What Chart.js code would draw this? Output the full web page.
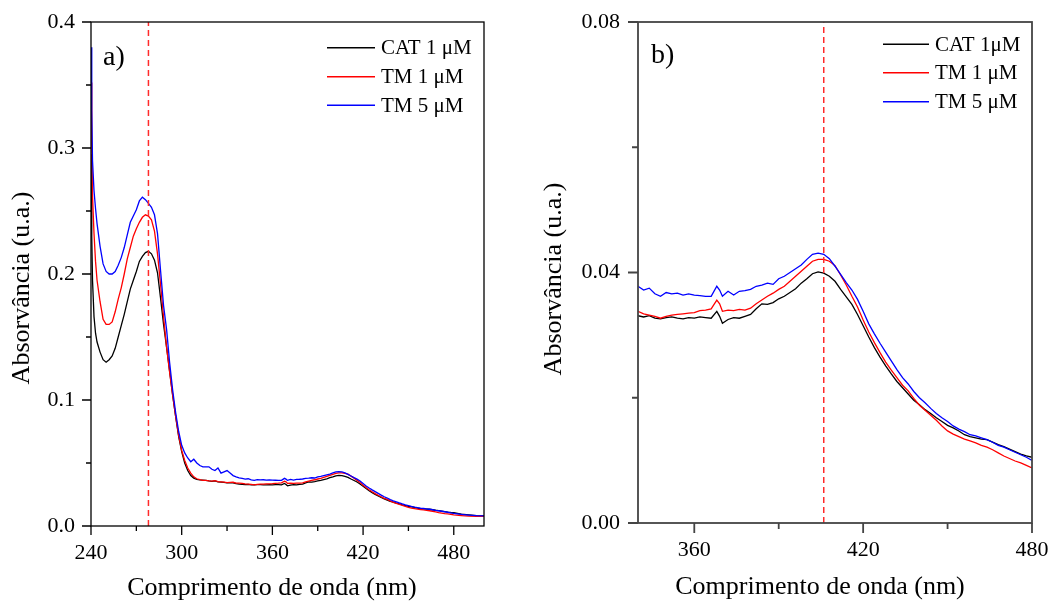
<!DOCTYPE html>
<html>
<head>
<meta charset="utf-8">
<script src="https://cdn.jsdelivr.net/npm/chart.js@4.4.1/dist/chart.umd.min.js"></script>
<style>
  body { margin: 0; background: #fff; }
  #wrap { position: relative; width: 1049px; height: 601px; }
  canvas { position: absolute; top: 0; }
  #chartA { left: 0; }
  #chartB { left: 520px; }
</style>
</head>
<body>
<div id="wrap">
  <canvas id="chartA" width="520" height="601"></canvas>
  <canvas id="chartB" width="529" height="601"></canvas>
</div>
<script>
// UV-vis spectra, wavelength in nm
var wavelength = [
  240, 240.5, 241, 242, 243, 244, 246, 248, 250, 252,
  254, 256, 258, 260, 262, 264, 266, 268, 270, 272,
  274, 276, 278, 280, 282, 284, 286, 288, 290, 292,
  294, 296, 298, 300, 302, 304, 306, 308, 310, 312,
  314, 316, 318, 320, 322, 324, 326, 328, 330, 332,
  334, 336, 338, 340, 342, 344, 346, 348, 350, 352,
  354, 356, 358, 360, 362, 364, 366, 368, 369, 370,
  372, 374, 376, 378, 380, 382, 384, 386, 388, 390,
  392, 394, 396, 398, 400, 402, 404, 406, 408, 410,
  412, 414, 416, 418, 420, 422, 424, 426, 428, 430,
  432, 434, 436, 438, 440, 442, 444, 446, 448, 450,
  452, 454, 456, 458, 460, 462, 464, 466, 468, 470,
  472, 474, 476, 478, 480, 485, 490, 495, 500
];

var cat1 = [
  0.295, 0.230, 0.195, 0.166, 0.153, 0.146, 0.138, 0.132, 0.130, 0.132,
  0.135, 0.141, 0.150, 0.159, 0.168, 0.178, 0.188, 0.195, 0.202, 0.210,
  0.214, 0.217, 0.218, 0.216, 0.211, 0.201, 0.181, 0.160, 0.142, 0.123,
  0.104, 0.087, 0.071, 0.059, 0.050, 0.044, 0.040, 0.038, 0.0370, 0.0366,
  0.0364, 0.0362, 0.0358, 0.0355, 0.0358, 0.0350, 0.0348, 0.0346, 0.0343, 0.0344,
  0.0342, 0.0336, 0.0333, 0.0331, 0.0329, 0.0331, 0.0327, 0.0326, 0.0328, 0.0329,
  0.0327, 0.0326, 0.0328, 0.0327, 0.0329, 0.0328, 0.0327, 0.0338, 0.0330, 0.0319,
  0.0325, 0.0328, 0.0327, 0.0330, 0.0333, 0.0342, 0.0350, 0.0349, 0.0352, 0.0358,
  0.0362, 0.0368, 0.0374, 0.0383, 0.0390, 0.0398, 0.0401, 0.0399, 0.0394, 0.0386,
  0.0373, 0.0361, 0.0349, 0.0333, 0.0315, 0.0297, 0.0280, 0.0265, 0.0251, 0.0238,
  0.0226, 0.0216, 0.0206, 0.0196, 0.0189, 0.0181, 0.0175, 0.0168, 0.0162, 0.0156,
  0.0152, 0.0147, 0.0141, 0.0138, 0.0136, 0.0134, 0.0133, 0.0129, 0.0125, 0.0122,
  0.0118, 0.0114, 0.0110, 0.0107, 0.0105, 0.0095, 0.0088, 0.0082, 0.0080
];

var tm1 = [
  0.352, 0.300, 0.262, 0.232, 0.210, 0.195, 0.178, 0.164, 0.160, 0.160,
  0.162, 0.170, 0.180, 0.189, 0.200, 0.212, 0.221, 0.230, 0.236, 0.241,
  0.245, 0.247, 0.246, 0.243, 0.234, 0.216, 0.192, 0.166, 0.142, 0.122,
  0.104, 0.087, 0.072, 0.060, 0.052, 0.046, 0.042, 0.039, 0.0375, 0.0368,
  0.0362, 0.0362, 0.0358, 0.0356, 0.0360, 0.0352, 0.0350, 0.0348, 0.0345, 0.0346,
  0.0347, 0.0340, 0.0340, 0.0338, 0.0334, 0.0332, 0.0330, 0.0327, 0.0330, 0.0332,
  0.0333, 0.0334, 0.0335, 0.0336, 0.0339, 0.0340, 0.0342, 0.0356, 0.0350, 0.0338,
  0.0340, 0.0339, 0.0341, 0.0340, 0.0343, 0.0350, 0.0356, 0.0362, 0.0367, 0.0373,
  0.0378, 0.0386, 0.0394, 0.0402, 0.0410, 0.0418, 0.0421, 0.0421, 0.0418, 0.0411,
  0.0396, 0.0380, 0.0362, 0.0345, 0.0324, 0.0305, 0.0288, 0.0272, 0.0257, 0.0244,
  0.0232, 0.0220, 0.0211, 0.0199, 0.0188, 0.0180, 0.0172, 0.0164, 0.0155, 0.0147,
  0.0142, 0.0138, 0.0134, 0.0131, 0.0128, 0.0124, 0.0121, 0.0117, 0.0112, 0.0107,
  0.0103, 0.0099, 0.0096, 0.0092, 0.0088, 0.0083, 0.0079, 0.0077, 0.0076
];

var tm5 = [
  0.380, 0.330, 0.290, 0.266, 0.252, 0.240, 0.222, 0.208, 0.202, 0.200,
  0.200, 0.202, 0.207, 0.213, 0.221, 0.231, 0.241, 0.246, 0.251, 0.258,
  0.261, 0.259, 0.256, 0.253, 0.247, 0.232, 0.203, 0.175, 0.156, 0.130,
  0.108, 0.090, 0.075, 0.064, 0.058, 0.054, 0.051, 0.053, 0.050, 0.048,
  0.047, 0.047, 0.047, 0.045, 0.044, 0.046, 0.042, 0.043, 0.044, 0.042,
  0.040, 0.039, 0.0382, 0.0378, 0.0372, 0.0375, 0.0366, 0.0362, 0.0368, 0.0366,
  0.0367, 0.0364, 0.0366, 0.0364, 0.0363, 0.0362, 0.0362, 0.0378, 0.0372, 0.0362,
  0.0370, 0.0364, 0.0370, 0.0371, 0.0373, 0.0378, 0.0380, 0.0383, 0.0381, 0.0390,
  0.0394, 0.0400, 0.0406, 0.0412, 0.0421, 0.0429, 0.0431, 0.0429, 0.0422, 0.0410,
  0.0397, 0.0384, 0.0372, 0.0357, 0.0338, 0.0318, 0.0302, 0.0287, 0.0273, 0.0259,
  0.0245, 0.0232, 0.0222, 0.0210, 0.0200, 0.0192, 0.0183, 0.0175, 0.0168, 0.0162,
  0.0155, 0.0150, 0.0146, 0.0141, 0.0139, 0.0136, 0.0133, 0.0129, 0.0124, 0.0121,
  0.0117, 0.0113, 0.0109, 0.0105, 0.0100, 0.0093, 0.0087, 0.0082, 0.0080
];

var labelsA = ['CAT 1 \u03bcM', 'TM 1 \u03bcM', 'TM 5 \u03bcM'];
var labelsB = ['CAT 1\u03bcM', 'TM 1 \u03bcM', 'TM 5 \u03bcM'];
var colors = ['#000000', '#ff0000', '#0000ff'];

// wavelength of the marked band in each panel
var peakA = 278;
var peakB = 406;

var xTitle = 'Comprimento de onda (nm)';
var yTitle = 'Absorv\u00e2ncia (u.a.)';
var serif = '"Liberation Serif", "Times New Roman", serif';

function series(values, label, color, order) {
  return {
    label: label,
    data: wavelength.map(function (w, i) { return { x: w, y: values[i] }; }),
    borderColor: color,
    borderWidth: 1.3,
    pointRadius: 0,
    order: order
  };
}

function marker(x, top) {
  return {
    label: 'marker',
    data: [{ x: x, y: 0 }, { x: x, y: top }],
    borderColor: '#ff2a2a',
    borderDash: [6, 4],
    borderWidth: 1.5,
    pointRadius: 0,
    order: 0
  };
}

// box, outward tick marks, axis titles, panel letter and legend
var decorations = {
  id: 'decorations',
  afterDraw: function (chart, args, o) {
    var ctx = chart.ctx, a = chart.chartArea;
    var xs = chart.scales.x, ys = chart.scales.y;
    ctx.save();
    ctx.strokeStyle = o.frameColor;
    ctx.lineWidth = o.frameWidth;
    ctx.strokeRect(a.left, a.top, a.right - a.left, a.bottom - a.top);
    ctx.beginPath();
    xs.ticks.forEach(function (t) {
      var px = xs.getPixelForValue(t.value);
      var len = t.label !== '' ? o.major : o.minor;
      ctx.moveTo(px, a.bottom);
      ctx.lineTo(px, a.bottom + len);
    });
    ys.ticks.forEach(function (t) {
      var py = ys.getPixelForValue(t.value);
      var len = t.label !== '' ? o.major : o.minor;
      ctx.moveTo(a.left, py);
      ctx.lineTo(a.left - len, py);
    });
    ctx.stroke();

    ctx.fillStyle = '#000';
    ctx.textAlign = 'center';
    ctx.textBaseline = 'middle';
    ctx.font = '26px ' + serif;
    ctx.fillText(xTitle, o.xTitleAt[0], o.xTitleAt[1]);
    ctx.save();
    ctx.translate(o.yTitleAt[0], o.yTitleAt[1]);
    ctx.rotate(-Math.PI / 2);
    ctx.fillText(yTitle, 0, 0);
    ctx.restore();

    ctx.textAlign = 'left';
    ctx.textBaseline = 'alphabetic';
    ctx.font = '28px ' + serif;
    ctx.fillText(o.panel, o.panelAt[0], o.panelAt[1]);

    ctx.font = '21px ' + serif;
    ctx.textBaseline = 'middle';
    ctx.lineWidth = 1.5;
    o.legendRows.forEach(function (y, i) {
      var ds = chart.data.datasets[i];
      ctx.strokeStyle = ds.borderColor;
      ctx.beginPath();
      ctx.moveTo(o.legendLine[0], y);
      ctx.lineTo(o.legendLine[1], y);
      ctx.stroke();
      ctx.fillStyle = '#000';
      ctx.fillText(ds.label, o.legendLine[1] + 6, y + 1);
    });
    ctx.restore();
  }
};

function axis(min, max, step, every, digits, size) {
  return {
    type: 'linear',
    min: min,
    max: max,
    grid: { display: false, drawTicks: false },
    border: { display: false },
    // fixed box so the plot area sits where it should; no room kept for edge labels
    afterFit: function (s) {
      if (s.isHorizontal()) { s.height = size; } else { s.width = size; }
      s.paddingLeft = 0;
      s.paddingRight = 0;
      s.paddingTop = 0;
      s.paddingBottom = 0;
    },
    ticks: {
      stepSize: step,
      includeBounds: false,
      autoSkip: false,
      maxRotation: 0,
      color: '#000',
      font: { family: serif, size: 22 },
      callback: function (v) {
        var k = Math.round(v / step);
        return k % every === 0 ? v.toFixed(digits) : '';
      }
    }
  };
}

function makeChart(id, cfg) {
  var ds = [
    series(cat1, cfg.labels[0], colors[0], 3),
    series(tm1, cfg.labels[1], colors[1], 2),
    series(tm5, cfg.labels[2], colors[2], 1),
    marker(cfg.peak, cfg.yMax)
  ];
  var x = axis(cfg.xMin, cfg.xMax, 30, 2, 0, cfg.xHeight);
  x.ticks.padding = 14;
  var y = axis(0, cfg.yMax, cfg.yStep, 2, cfg.yDigits, cfg.yWidth);
  y.ticks.padding = cfg.yPad;
  return new Chart(document.getElementById(id), {
    type: 'line',
    data: { datasets: ds },
    options: {
      animation: false,
      responsive: false,
      devicePixelRatio: 1,
      layout: { padding: { top: 22, right: cfg.padRight, left: 0, bottom: 0 } },
      plugins: {
        legend: { display: false },
        tooltip: { enabled: false },
        decorations: cfg.deco
      },
      scales: { x: x, y: y }
    },
    plugins: [decorations]
  });
}

makeChart('chartA', {
  labels: labelsA, peak: peakA,
  xMin: 240, xMax: 500, yMax: 0.4, yStep: 0.05, yDigits: 1,
  xHeight: 75, yWidth: 91, padRight: 36, yPad: 16,
  deco: {
    frameColor: '#000', frameWidth: 1.3, major: 9, minor: 5,
    xTitleAt: [272, 588], yTitleAt: [22, 288],
    panel: 'a)', panelAt: [103, 65],
    legendLine: [327, 375], legendRows: [47.7, 76.7, 105.3]
  }
});

makeChart('chartB', {
  labels: labelsB, peak: peakB,
  xMin: 340, xMax: 480, yMax: 0.08, yStep: 0.02, yDigits: 2,
  xHeight: 78, yWidth: 118, padRight: 17, yPad: 18,
  deco: {
    frameColor: '#444', frameWidth: 1.8, major: 10, minor: 6,
    xTitleAt: [300, 587], yTitleAt: [34, 279],
    panel: 'b)', panelAt: [131, 63],
    legendLine: [363, 409], legendRows: [44.3, 72.7, 101.7]
  }
});
</script>
</body>
</html>
